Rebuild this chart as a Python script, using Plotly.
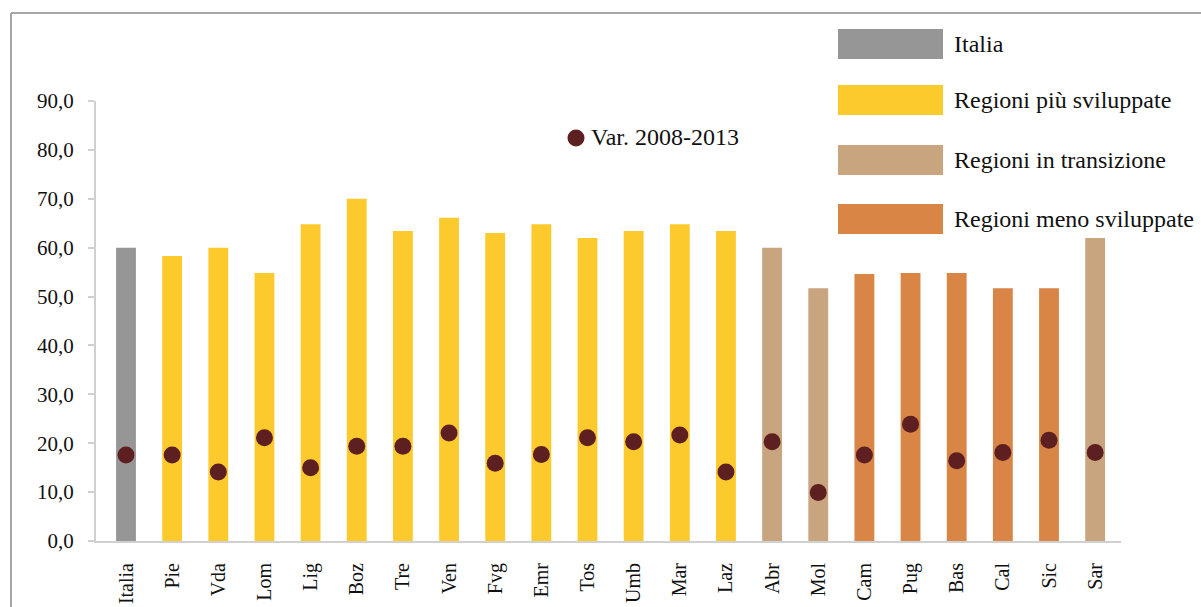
import plotly.graph_objects as go

regions = ["Italia", "Pie", "Vda", "Lom", "Lig", "Boz", "Tre", "Ven", "Fvg", "Emr", "Tos",
           "Umb", "Mar", "Laz", "Abr", "Mol", "Cam", "Pug", "Bas", "Cal", "Sic", "Sar"]
levels = [60.0, 58.3, 60.0, 54.8, 64.8, 70.0, 63.4, 66.1, 63.0, 64.8, 62.0,
          63.4, 64.8, 63.4, 60.0, 51.7, 54.6, 54.8, 54.8, 51.7, 51.7, 62.0]
var_2008_2013 = [17.6, 17.6, 14.1, 21.1, 15.0, 19.4, 19.4, 22.1, 15.9, 17.7, 21.1,
                 20.3, 21.7, 14.1, 20.3, 9.9, 17.6, 23.9, 16.4, 18.1, 20.6, 18.1]
groups = ["Italia"] + ["Regioni più sviluppate"] * 13 + ["Regioni in transizione"] * 2 + \
         ["Regioni meno sviluppate"] * 5 + ["Regioni in transizione"]
group_names = ["Italia", "Regioni più sviluppate", "Regioni in transizione", "Regioni meno sviluppate"]
group_colors = ["#969696", "#FCCA2C", "#C8A57E", "#D98545"]
dot_name = "Var. 2008-2013"
dot_color = "#5E1F20"
y_ticks = [0, 10, 20, 30, 40, 50, 60, 70, 80, 90]

FONT = "Liberation Serif"
W, H = 1201, 607
L, R, T, B = 96, 1121, 101, 541

def px(x):
    return (x - L) / (R - L)

def py(y):
    return (B - y) / (B - T)

fig = go.Figure()
for g, c in zip(group_names, group_colors):
    xs = [r for r, gg in zip(regions, groups) if gg == g]
    ys = [v for v, gg in zip(levels, groups) if gg == g]
    fig.add_trace(go.Bar(x=xs, y=ys, name=g, marker=dict(color=c, line=dict(width=0)),
                         width=0.43, showlegend=False))
fig.add_trace(go.Scatter(x=regions, y=var_2008_2013, mode="markers", name=dot_name,
                         marker=dict(color=dot_color, size=17), showlegend=False))

shapes = []
annotations = []
# outer frame
shapes.append(dict(type="line", xref="paper", yref="paper", x0=px(11), x1=px(1215),
                   y0=py(13), y1=py(13), line=dict(color="#A6A6A6", width=2)))
shapes.append(dict(type="line", xref="paper", yref="paper", x0=px(11), x1=px(11),
                   y0=py(13), y1=py(620), line=dict(color="#A6A6A6", width=2)))
# custom legend for bars
swatch_tops = [29, 85, 145, 204]
for g, c, top in zip(group_names, group_colors, swatch_tops):
    shapes.append(dict(type="rect", xref="paper", yref="paper", x0=px(838), x1=px(943),
                       y0=py(top + 30), y1=py(top), fillcolor=c, line=dict(width=0)))
    annotations.append(dict(xref="paper", yref="paper", x=px(952), y=py(top + 15), text=g,
                            showarrow=False, xanchor="left", yanchor="middle",
                            font=dict(family=FONT, size=24, color="#111111")))
# legend for dots
shapes.append(dict(type="circle", xref="paper", yref="paper", x0=px(567.5), x1=px(584.5),
                   y0=py(146.5), y1=py(129.5), fillcolor=dot_color, line=dict(width=0)))
annotations.append(dict(xref="paper", yref="paper", x=px(589), y=py(137), text=dot_name,
                        showarrow=False, xanchor="left", yanchor="middle",
                        font=dict(family=FONT, size=24, color="#111111")))

fig.update_layout(
    width=W, height=H,
    margin=dict(l=L, r=W - R, t=T, b=H - B, autoexpand=False),
    paper_bgcolor="white", plot_bgcolor="white",
    barmode="overlay",
    separators=",.",
    font=dict(family=FONT, size=21, color="#111111"),
    shapes=shapes, annotations=annotations,
    xaxis=dict(type="category", categoryorder="array", categoryarray=regions,
               range=[-0.65, 21.56], showgrid=False, showline=True, linecolor="#D0D0D0",
               linewidth=2, ticks="", tickangle=-90, automargin=False,
               ticklabelstandoff=12,
               tickfont=dict(family=FONT, size=20, color="#111111")),
    yaxis=dict(range=[0, 90], tickvals=y_ticks, tickformat=".1f", showgrid=False,
               zeroline=False, showline=True, linecolor="#D0D0D0", linewidth=2,
               ticks="outside", ticklen=6, tickcolor="#D0D0D0", tickwidth=2,
               ticklabelstandoff=10,
               automargin=False, tickfont=dict(family=FONT, size=21, color="#111111")),
)
fig.write_html("out.html", config={"displayModeBar": False},
               post_script="document.body.style.margin='0';")
